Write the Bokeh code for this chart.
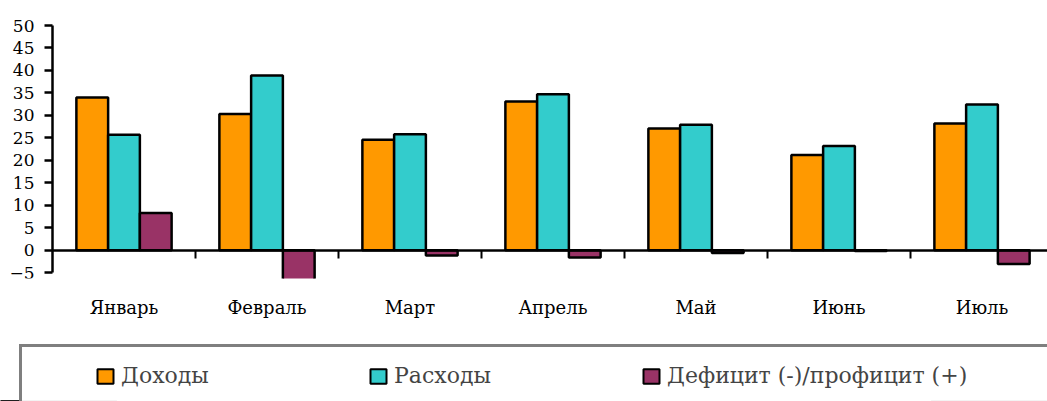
from bokeh.plotting import figure
from bokeh.layouts import column
from bokeh.models import (Range1d, FixedTicker, LinearAxis, Legend, LegendItem,
                          ColumnDataSource, CustomJSTickFormatter)
from bokeh.transform import dodge
from bokeh.embed import file_html
from bokeh.resources import INLINE

months = ["Январь", "Февраль", "Март", "Апрель", "Май", "Июнь", "Июль"]
income = [34.0, 30.3, 24.6, 33.1, 27.1, 21.2, 28.2]
expenses = [25.7, 38.9, 25.8, 34.7, 27.9, 23.2, 32.4]
balance = [8.3, -8.6, -1.2, -1.6, -0.6, -0.2, -3.1]
y_ticks = list(range(-5, 55, 5))
series_names = ["Доходы", "Расходы", "Дефицит (-)/профицит (+)"]
fields = ["income", "expenses", "balance"]
colors = ["#FF9900", "#33CCCC", "#993366"]

FONT = "DejaVu Serif"
n = len(months)
xs = list(range(n))
src = ColumnDataSource(dict(x=xs, income=income, expenses=expenses, balance=balance))

x_lo = -0.5 - 52 / 143.0
x_hi = -0.5 + 995 / 143.0
p = figure(width=1047, height=335, output_backend="svg", toolbar_location=None,
           x_range=Range1d(x_lo, x_hi), y_range=Range1d(-6.3, 55.57),
           y_axis_location=None,
           min_border_left=0, min_border_right=0, min_border_top=0,
           min_border_bottom=57)
p.outline_line_color = None
p.grid.visible = False

bw = 0.222
for i, field in enumerate(fields):
    p.vbar(x=dodge("x", (i - 1) * bw, range=p.x_range), top=field, width=bw,
           source=src, fill_color=colors[i], line_color="black", line_width=2.5)

# y axis (pinned at the left edge of the first category)
ya = LinearAxis(fixed_location=-0.5, ticker=FixedTicker(ticks=y_ticks), bounds=(-5, 50),
                major_tick_out=8, major_tick_in=0, minor_tick_line_color=None,
                axis_line_width=2.5, major_tick_line_width=2.5,
                major_label_standoff=10, major_label_text_font=FONT,
                major_label_text_font_size="17px", major_label_text_color="black")
p.add_layout(ya, "left")

# category labels axis
xa = p.xaxis[0]
xa.ticker = FixedTicker(ticks=xs)
xa.major_label_overrides = {i: m for i, m in enumerate(months)}
xa.axis_line_color = None
xa.major_tick_line_color = None
xa.major_tick_out = 0
xa.minor_tick_line_color = None
xa.major_label_standoff = 18
xa.major_label_text_font = FONT
xa.major_label_text_font_size = "18px"
xa.major_label_text_color = "black"

# axis line at zero with tick marks between categories
ax0 = LinearAxis(fixed_location=0, bounds=(-0.5, x_hi),
                 ticker=FixedTicker(ticks=[i + 0.5 for i in range(n - 1)]),
                 formatter=CustomJSTickFormatter(code="return ''"),
                 major_tick_out=8, major_tick_in=0, minor_tick_line_color=None,
                 axis_line_width=2.5, major_tick_line_width=2)
p.add_layout(ax0, "below")

# legend strip: same bars drawn again, but just outside this strip's visible range
pl = figure(width=1047, height=66, output_backend="svg", toolbar_location=None,
            x_range=Range1d(0, 1), y_range=Range1d(45, 46),
            x_axis_location=None, y_axis_location=None,
            min_border_left=0, min_border_right=0, min_border_top=0,
            min_border_bottom=0)
pl.outline_line_color = None
pl.grid.visible = False
items = []
for i, name in enumerate(series_names):
    r = pl.vbar(x="x", top=fields[i], width=bw, source=src,
                fill_color=colors[i], line_color="black", line_width=2)
    items.append(LegendItem(label=name, renderers=[r]))
# blank trailing slot so the legend frame runs past the right edge, as in the original
r_blank = pl.vbar(x="x", top=fields[0], width=bw, source=src,
                  fill_alpha=0, line_alpha=0)
items.append(LegendItem(label=" ", renderers=[r_blank]))

legend = Legend(items=items, orientation="horizontal", location=(19, -6), margin=0,
                padding=16, spacing=0, glyph_width=20, glyph_height=18,
                label_standoff=6, label_width=247,
                label_text_font=FONT, label_text_font_size="22px",
                border_line_color="black", border_line_width=3,
                title=" ", title_location="left", title_text_font_size="1px",
                title_standoff=56)
pl.add_layout(legend)

open("out.html", "w").write(file_html(column(p, pl, spacing=0), INLINE))
